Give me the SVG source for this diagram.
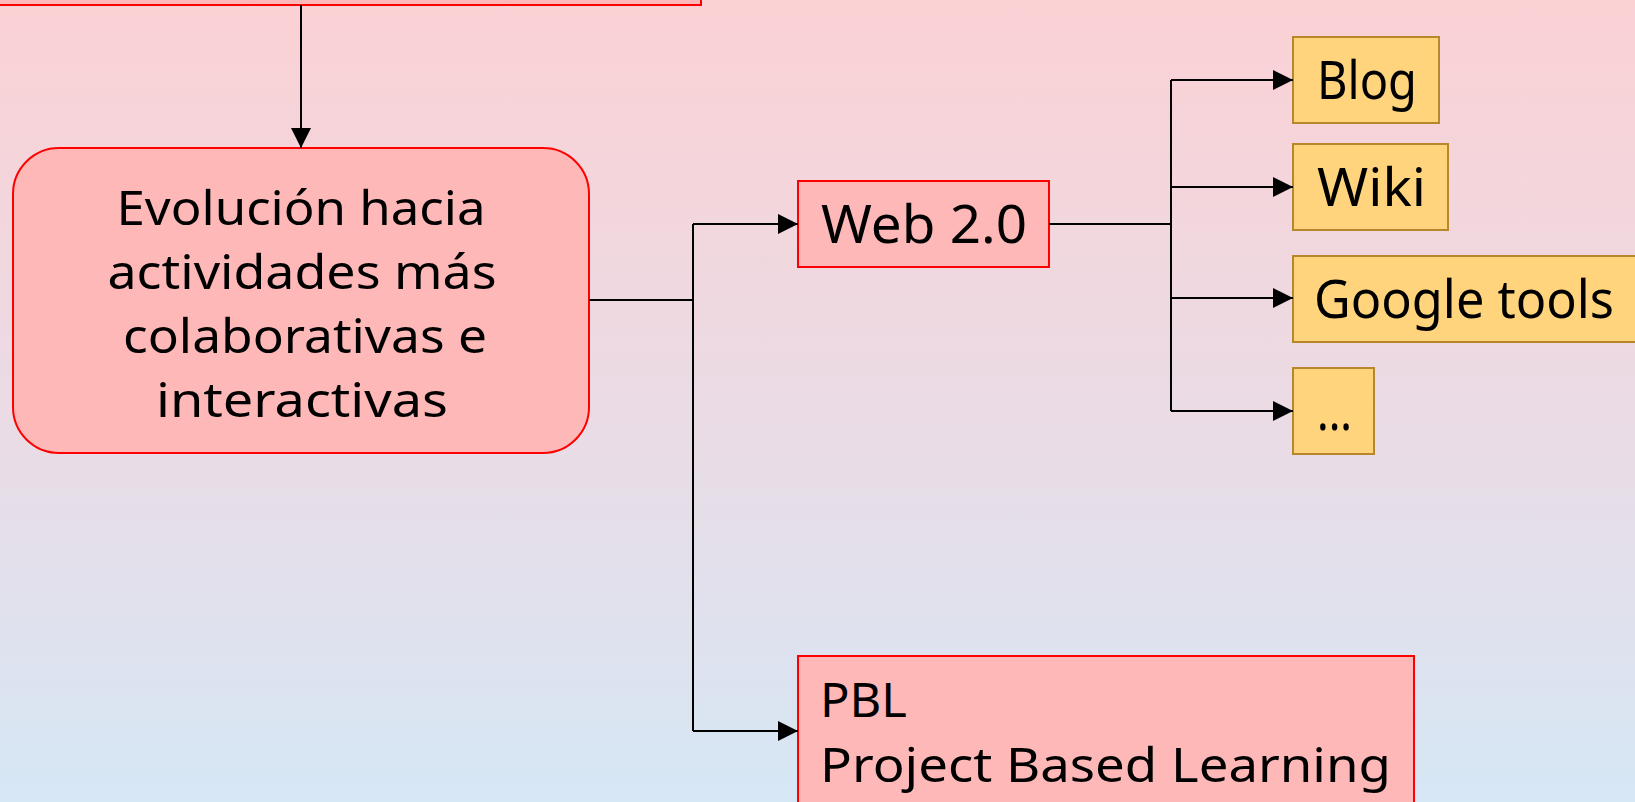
<svg xmlns="http://www.w3.org/2000/svg" width="1635" height="802" viewBox="0 0 1635 802">
<defs>
<linearGradient id="bg" x1="0" y1="0" x2="0" y2="1">
<stop offset="0" stop-color="#FBD1D4"/>
<stop offset="0.55" stop-color="#E9DCE6"/>
<stop offset="1" stop-color="#D6E7F5"/>
</linearGradient>
<marker id="arrB" viewBox="0 0 20 20" refX="20" refY="10" markerWidth="20" markerHeight="20" markerUnits="userSpaceOnUse" orient="auto">
<path d="M0,0 L20,10 L0,20 z" fill="#000"/>
</marker>
</defs>
<style>
.pink{fill:#FFB8B8;stroke:#FF0000;stroke-width:2}
.gold{fill:#FFD47C;stroke:#B8862B;stroke-width:2}
.t{font-family:"Comic Sans MS","Noto Sans","DejaVu Sans",sans-serif;font-size:53px;fill:#000}
.e{font-size:47px}
.c{text-anchor:middle}
.ln{fill:none;stroke:#000;stroke-width:2}
</style>
<rect x="0" y="0" width="1635" height="802" fill="url(#bg)"/>

<g id="top">
<rect class="pink" x="-20" y="-40" width="721" height="45"/>
</g>

<g id="evolucion">
<rect class="pink" x="13" y="148" width="576" height="305" rx="46" ry="46"/>
<text class="t e c" x="301" y="225" textLength="369" lengthAdjust="spacingAndGlyphs">Evolución hacia</text>
<text class="t e c" x="302" y="289" textLength="389" lengthAdjust="spacingAndGlyphs">actividades más</text>
<text class="t e c" x="305" y="353" textLength="364" lengthAdjust="spacingAndGlyphs">colaborativas e</text>
<text class="t e c" x="302" y="417" textLength="292" lengthAdjust="spacingAndGlyphs">interactivas</text>
</g>

<g id="web20">
<rect class="pink" x="798" y="181" width="251" height="86"/>
<text class="t" x="821" y="243" textLength="206" lengthAdjust="spacingAndGlyphs">Web 2.0</text>
</g>

<g id="blog">
<rect class="gold" x="1293" y="37" width="146" height="86"/>
<text class="t" x="1317" y="99" textLength="100" lengthAdjust="spacingAndGlyphs">Blog</text>
</g>

<g id="wiki">
<rect class="gold" x="1293" y="144" width="155" height="86"/>
<text class="t" x="1317" y="206" textLength="109" lengthAdjust="spacingAndGlyphs">Wiki</text>
</g>

<g id="google">
<rect class="gold" x="1293" y="256" width="360" height="86"/>
<text class="t" x="1314" y="318" textLength="300" lengthAdjust="spacingAndGlyphs">Google tools</text>
</g>

<g id="more">
<rect class="gold" x="1293" y="368" width="81" height="86"/>
<text class="t" x="1317" y="430" textLength="35" lengthAdjust="spacingAndGlyphs">...</text>
</g>

<g id="pbl">
<rect class="pink" x="798" y="656" width="616" height="170"/>
<text class="t e" x="820" y="717" textLength="87" lengthAdjust="spacingAndGlyphs">PBL</text>
<text class="t e" x="820" y="782" textLength="571" lengthAdjust="spacingAndGlyphs">Project Based Learning</text>
</g>

<g id="connectors">
<path class="ln" d="M301,5 V148" marker-end="url(#arrB)"/>
<path class="ln" d="M589,300 H693"/>
<path class="ln" d="M693,224 V731"/>
<path class="ln" d="M693,224 H798" marker-end="url(#arrB)"/>
<path class="ln" d="M693,731 H798" marker-end="url(#arrB)"/>
<path class="ln" d="M1049,224 H1171"/>
<path class="ln" d="M1171,80 V411"/>
<path class="ln" d="M1171,80 H1293" marker-end="url(#arrB)"/>
<path class="ln" d="M1171,187 H1293" marker-end="url(#arrB)"/>
<path class="ln" d="M1171,298 H1293" marker-end="url(#arrB)"/>
<path class="ln" d="M1171,411 H1293" marker-end="url(#arrB)"/>
</g>
</svg>
